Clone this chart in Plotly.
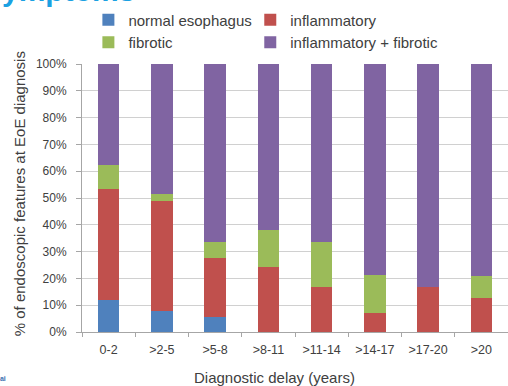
import plotly.graph_objects as go

# Diagnostic delay groups (years)
delay_groups = ["0-2", ">2-5", ">5-8", ">8-11", ">11-14", ">14-17", ">17-20", ">20"]

# Share of endoscopic features at EoE diagnosis (%), per delay group
normal_esophagus = [12.1, 7.7, 5.5, 0, 0, 0, 0, 0]
inflammatory = [41.4, 41.1, 22.3, 24.3, 16.8, 7.0, 16.7, 12.6]
fibrotic = [8.7, 2.6, 5.7, 13.6, 16.7, 14.3, 0, 8.3]
inflammatory_fibrotic = [37.8, 48.6, 66.5, 62.1, 66.5, 78.7, 83.3, 79.1]

y_ticks = [0, 10, 20, 30, 40, 50, 60, 70, 80, 90, 100]

series = [
    ("normal esophagus", normal_esophagus, "#4F81BD", "legend"),
    ("inflammatory", inflammatory, "#C0504D", "legend2"),
    ("fibrotic", fibrotic, "#9BBB59", "legend"),
    ("inflammatory + fibrotic", inflammatory_fibrotic, "#8064A2", "legend2"),
]

FONT = "Liberation Sans, Arial, sans-serif"
TEXT = "#404040"

fig = go.Figure()
for name, vals, color, leg in series:
    fig.add_trace(go.Bar(
        x=delay_groups, y=vals, name=name, width=0.4,
        marker=dict(color=color, line=dict(width=0)),
        legend=leg,
    ))

legend_style = dict(
    orientation="v", bgcolor="rgba(0,0,0,0)", borderwidth=0,
    font=dict(family=FONT, size=15, color=TEXT),
    yanchor="top", xanchor="left", traceorder="normal",
    itemwidth=30, tracegroupgap=0,
)

fig.update_layout(
    width=508, height=386,
    margin=dict(l=82, r=0, t=64, b=54),
    paper_bgcolor="white", plot_bgcolor="white",
    barmode="stack", bargap=0.6,
    showlegend=True,
    legend=dict(x=0.015, y=1.226, **legend_style),
    legend2=dict(x=0.395, y=1.226, **legend_style),
    font=dict(family=FONT, color=TEXT),
)

fig.update_yaxes(
    range=[0, 100], tickvals=y_ticks,
    ticktext=[f"{v}%" for v in y_ticks],
    showgrid=True, gridcolor="#D0D0D0", gridwidth=1,
    showline=True, linecolor="#A6A6A6", linewidth=1,
    ticks="outside", ticklen=5, tickcolor="#A6A6A6",
    ticklabelstandoff=7,
    tickfont=dict(family=FONT, size=12, color=TEXT),
    zeroline=False, fixedrange=True,
)
fig.update_xaxes(
    showline=True, linecolor="#A6A6A6", linewidth=1,
    ticks="outside", ticklen=4, tickcolor="#A6A6A6",
    tickson="boundaries", ticklabelstandoff=6,
    tickfont=dict(family=FONT, size=12.5, color=TEXT),
    showgrid=False,
)

# Axis titles
fig.add_annotation(
    text="% of endoscopic features at EoE diagnosis", textangle=-90,
    xref="paper", yref="paper", x=-0.146, y=0.517,
    xanchor="center", yanchor="middle", showarrow=False,
    font=dict(family=FONT, size=15, color=TEXT),
)
fig.add_annotation(
    text="Diagnostic delay (years)",
    xref="paper", yref="paper", x=0.453, y=-0.168,
    xanchor="center", yanchor="middle", showarrow=False,
    font=dict(family=FONT, size=15, color=TEXT),
)

# Slide heading, mostly above the visible area
fig.add_annotation(
    text="<b>Symptoms</b>",
    xref="paper", yref="paper", x=-0.239, y=1.207,
    xanchor="left", yanchor="bottom", showarrow=False,
    font=dict(family=FONT, size=30, color="#1BA1E2"),
)
# Footer logo text, partly off the left edge
fig.add_annotation(
    text="<b>Sinai</b>",
    xref="paper", yref="paper", x=-0.174, y=-0.175,
    xanchor="right", yanchor="middle", showarrow=False,
    font=dict(family=FONT, size=7, color="#3A6FB0"),
)

fig.write_html("out.html")
